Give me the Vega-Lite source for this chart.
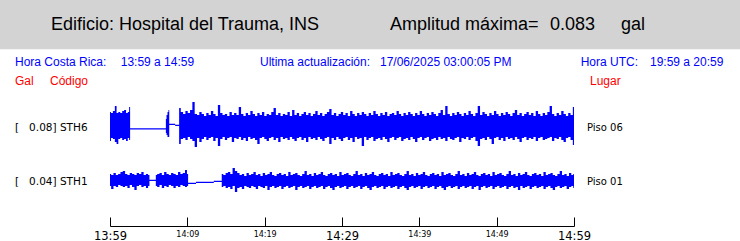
{
  "$schema": "https://vega.github.io/schema/vega-lite/v6.json",
  "width": 464,
  "height": 226,
  "autosize": {"type": "none"},
  "padding": {"left": 110, "right": 166, "top": 0, "bottom": 15},
  "background": "white",
  "config": {"view": {"stroke": null}, "axis": {"grid": false}, "axisY": {"disable": true, "domain": false, "ticks": false, "labels": false, "titleOpacity": 0}},
  "datasets": {
    "sth6": [
      {"t":0.0,"h":112,"l":141},{"t":0.25,"h":113,"l":138},{"t":0.5,"h":111,"l":139},{"t":0.75,"h":106,"l":142},{"t":0.95,"h":113,"l":144},{"t":1.2,"h":112,"l":139},{"t":1.45,"h":113,"l":138},{"t":1.7,"h":111,"l":140},{"t":1.95,"h":110,"l":139},{"t":2.2,"h":113,"l":141},{"t":2.4,"h":112,"l":138},{"t":2.55,"h":107,"l":140},
      {"t":2.65,"h":128.2,"l":129.5},{"t":7.2,"h":128.2,"l":129.5},
      {"t":7.25,"h":119,"l":133},{"t":7.37,"h":115,"l":135},{"t":7.5,"h":112,"l":137},{"t":7.62,"h":110,"l":137},
      {"t":7.7,"h":123.8,"l":125},{"t":8.4,"h":123.8,"l":125},{"t":8.45,"h":124.8,"l":126},{"t":8.88,"h":124.8,"l":126},
      {"t":9.0,"h":108,"l":144},{"t":9.3,"h":112,"l":139},{"t":9.6,"h":114,"l":138},{"t":9.9,"h":111,"l":140},{"t":10.2,"h":113,"l":137},{"t":10.5,"h":110,"l":139},{"t":10.8,"h":102,"l":141},{"t":11.1,"h":114,"l":147},{"t":11.4,"h":115,"l":138},{"t":11.7,"h":112,"l":142},
      {"t":12.0,"h":114,"l":139},{"t":12.3,"h":116,"l":137},{"t":12.6,"h":113,"l":140},{"t":12.9,"h":115,"l":138},{"t":13.2,"h":111,"l":137},{"t":13.5,"h":114,"l":141},{"t":13.8,"h":116,"l":138},{"t":14.1,"h":105,"l":146},{"t":14.4,"h":113,"l":139},{"t":14.7,"h":115,"l":137},
      {"t":15.0,"h":114,"l":140},{"t":15.3,"h":116,"l":138},{"t":15.6,"h":112,"l":137},{"t":15.9,"h":115,"l":142},{"t":16.2,"h":113,"l":138},{"t":16.5,"h":115,"l":139},{"t":16.8,"h":107,"l":137},{"t":17.1,"h":114,"l":140},{"t":17.4,"h":116,"l":138},{"t":17.7,"h":113,"l":141},
      {"t":18.0,"h":115,"l":137},{"t":18.3,"h":111,"l":139},{"t":18.6,"h":114,"l":138},{"t":18.9,"h":116,"l":140},{"t":19.2,"h":113,"l":144},{"t":19.5,"h":115,"l":138},{"t":19.8,"h":112,"l":137},{"t":20.1,"h":116,"l":139},{"t":20.4,"h":114,"l":141},{"t":20.7,"h":115,"l":138},
      {"t":21.0,"h":112,"l":137},{"t":21.3,"h":108,"l":140},{"t":21.6,"h":115,"l":138},{"t":21.9,"h":113,"l":142},{"t":22.2,"h":116,"l":137},{"t":22.5,"h":114,"l":139},{"t":22.8,"h":115,"l":138},{"t":23.1,"h":112,"l":140},{"t":23.4,"h":116,"l":137},{"t":23.7,"h":110,"l":139},
      {"t":24.0,"h":115,"l":141},{"t":24.3,"h":113,"l":138},{"t":24.6,"h":116,"l":137},{"t":24.9,"h":114,"l":140},{"t":25.2,"h":112,"l":138},{"t":25.5,"h":115,"l":142},{"t":25.8,"h":113,"l":137},{"t":26.1,"h":116,"l":139},{"t":26.4,"h":114,"l":138},{"t":26.7,"h":111,"l":140},
      {"t":27.0,"h":115,"l":137},{"t":27.3,"h":113,"l":139},{"t":27.6,"h":116,"l":141},{"t":27.9,"h":114,"l":138},{"t":28.2,"h":112,"l":137},{"t":28.5,"h":109,"l":144},{"t":28.8,"h":115,"l":138},{"t":29.1,"h":113,"l":140},{"t":29.4,"h":116,"l":137},{"t":29.7,"h":114,"l":139},
      {"t":30.0,"h":112,"l":141},{"t":30.3,"h":115,"l":138},{"t":30.6,"h":113,"l":137},{"t":30.9,"h":116,"l":140},{"t":31.2,"h":111,"l":138},{"t":31.5,"h":114,"l":142},{"t":31.8,"h":116,"l":137},{"t":32.1,"h":113,"l":139},{"t":32.4,"h":115,"l":138},{"t":32.7,"h":112,"l":146},
      {"t":33.0,"h":114,"l":137},{"t":33.3,"h":116,"l":140},{"t":33.6,"h":113,"l":138},{"t":33.9,"h":115,"l":137},{"t":34.2,"h":111,"l":141},{"t":34.5,"h":114,"l":139},{"t":34.8,"h":116,"l":138},{"t":35.1,"h":113,"l":140},{"t":35.4,"h":115,"l":137},{"t":35.7,"h":112,"l":139},
      {"t":36.0,"h":116,"l":142},{"t":36.3,"h":114,"l":138},{"t":36.6,"h":113,"l":137},{"t":36.9,"h":115,"l":140},{"t":37.2,"h":111,"l":138},{"t":37.5,"h":114,"l":137},{"t":37.8,"h":116,"l":141},{"t":38.1,"h":113,"l":139},{"t":38.4,"h":115,"l":138},{"t":38.7,"h":112,"l":140},
      {"t":39.0,"h":114,"l":137},{"t":39.3,"h":116,"l":139},{"t":39.6,"h":113,"l":142},{"t":39.9,"h":115,"l":138},{"t":40.2,"h":111,"l":137},{"t":40.5,"h":114,"l":140},{"t":40.8,"h":116,"l":138},{"t":41.1,"h":113,"l":137},{"t":41.4,"h":115,"l":141},{"t":41.7,"h":112,"l":139},
      {"t":42.0,"h":114,"l":138},{"t":42.3,"h":116,"l":140},{"t":42.6,"h":113,"l":137},{"t":42.9,"h":110,"l":139},{"t":43.2,"h":115,"l":138},{"t":43.5,"h":106,"l":141},{"t":43.8,"h":114,"l":137},{"t":44.1,"h":116,"l":139},{"t":44.4,"h":113,"l":140},{"t":44.7,"h":115,"l":138},
      {"t":45.0,"h":112,"l":137},{"t":45.3,"h":114,"l":142},{"t":45.6,"h":116,"l":138},{"t":45.9,"h":113,"l":139},{"t":46.2,"h":115,"l":137},{"t":46.5,"h":111,"l":140},{"t":46.8,"h":114,"l":138},{"t":47.1,"h":116,"l":137},{"t":47.4,"h":113,"l":141},{"t":47.7,"h":106,"l":146},
      {"t":48.0,"h":115,"l":139},{"t":48.3,"h":112,"l":138},{"t":48.6,"h":114,"l":140},{"t":48.9,"h":116,"l":137},{"t":49.2,"h":113,"l":139},{"t":49.5,"h":115,"l":144},{"t":49.8,"h":111,"l":138},{"t":50.1,"h":114,"l":137},{"t":50.4,"h":116,"l":140},{"t":50.7,"h":113,"l":138},
      {"t":51.0,"h":115,"l":141},{"t":51.3,"h":112,"l":137},{"t":51.6,"h":114,"l":139},{"t":51.9,"h":116,"l":138},{"t":52.2,"h":113,"l":140},{"t":52.5,"h":110,"l":137},{"t":52.8,"h":115,"l":139},{"t":53.1,"h":113,"l":142},{"t":53.4,"h":116,"l":138},{"t":53.7,"h":114,"l":137},
      {"t":54.0,"h":112,"l":140},{"t":54.3,"h":115,"l":138},{"t":54.6,"h":113,"l":139},{"t":54.9,"h":116,"l":137},{"t":55.2,"h":111,"l":141},{"t":55.5,"h":114,"l":138},{"t":55.8,"h":116,"l":137},{"t":56.1,"h":113,"l":140},{"t":56.4,"h":115,"l":139},{"t":56.7,"h":112,"l":138},
      {"t":57.0,"h":106,"l":137},{"t":57.3,"h":114,"l":141},{"t":57.6,"h":116,"l":138},{"t":57.9,"h":113,"l":139},{"t":58.2,"h":115,"l":137},{"t":58.5,"h":111,"l":140},{"t":58.8,"h":114,"l":142},{"t":59.1,"h":116,"l":138},{"t":59.4,"h":113,"l":137},{"t":59.7,"h":115,"l":140},{"t":60.0,"h":107,"l":145}
    ],
    "sth1": [
      {"t":0.0,"h":174,"l":186},{"t":0.3,"h":175,"l":189},{"t":0.6,"h":173,"l":186},{"t":0.9,"h":175,"l":187},{"t":1.2,"h":174,"l":185},{"t":1.5,"h":172,"l":186},{"t":1.8,"h":171,"l":187},{"t":2.1,"h":174,"l":186},{"t":2.4,"h":175,"l":188},{"t":2.7,"h":173,"l":185},{"t":3.0,"h":174,"l":187},{"t":3.3,"h":175,"l":190},{"t":3.6,"h":173,"l":186},{"t":3.9,"h":174,"l":185},{"t":4.2,"h":172,"l":187},{"t":4.5,"h":175,"l":186},{"t":4.8,"h":174,"l":188},{"t":5.05,"h":175,"l":186},
      {"t":5.15,"h":179.8,"l":181},{"t":5.9,"h":179.8,"l":181},
      {"t":5.95,"h":175,"l":186},{"t":6.25,"h":174,"l":187},{"t":6.55,"h":173,"l":185},{"t":6.85,"h":175,"l":188},{"t":7.15,"h":172,"l":186},{"t":7.45,"h":174,"l":187},{"t":7.75,"h":175,"l":185},{"t":8.05,"h":173,"l":186},{"t":8.35,"h":174,"l":188},{"t":8.65,"h":175,"l":186},{"t":8.95,"h":172,"l":187},{"t":9.25,"h":174,"l":185},{"t":9.55,"h":173,"l":186},{"t":9.85,"h":170,"l":187},{"t":10.05,"h":174,"l":186},
      {"t":10.15,"h":182.8,"l":184},{"t":11.1,"h":182.8,"l":184},{"t":11.15,"h":181.8,"l":183},{"t":13.4,"h":181.8,"l":183},{"t":13.45,"h":180.8,"l":182},{"t":14.4,"h":180.8,"l":182},
      {"t":14.5,"h":174,"l":187},{"t":14.8,"h":175,"l":186},{"t":15.1,"h":173,"l":188},{"t":15.4,"h":172,"l":187},{"t":15.7,"h":174,"l":189},{"t":16.0,"h":168,"l":186},{"t":16.3,"h":171,"l":192},{"t":16.6,"h":173,"l":188},{"t":16.9,"h":175,"l":187},{"t":17.2,"h":174,"l":189},
      {"t":17.5,"h":176,"l":186},{"t":17.8,"h":173,"l":187},{"t":18.1,"h":175,"l":188},{"t":18.4,"h":174,"l":186},{"t":18.7,"h":172,"l":187},{"t":19.0,"h":175,"l":189},{"t":19.3,"h":174,"l":186},{"t":19.6,"h":176,"l":187},{"t":19.9,"h":173,"l":188},{"t":20.2,"h":175,"l":186},
      {"t":20.5,"h":174,"l":190},{"t":20.8,"h":172,"l":187},{"t":21.1,"h":175,"l":186},{"t":21.4,"h":176,"l":188},{"t":21.7,"h":174,"l":187},{"t":22.0,"h":173,"l":186},{"t":22.3,"h":175,"l":189},{"t":22.6,"h":174,"l":187},{"t":22.9,"h":176,"l":186},{"t":23.2,"h":172,"l":188},
      {"t":23.5,"h":175,"l":187},{"t":23.8,"h":174,"l":186},{"t":24.1,"h":173,"l":190},{"t":24.4,"h":175,"l":187},{"t":24.7,"h":176,"l":186},{"t":25.0,"h":174,"l":188},{"t":25.3,"h":171,"l":187},{"t":25.6,"h":175,"l":186},{"t":25.9,"h":174,"l":189},{"t":26.2,"h":176,"l":187},
      {"t":26.5,"h":173,"l":186},{"t":26.8,"h":175,"l":188},{"t":27.1,"h":174,"l":187},{"t":27.4,"h":172,"l":186},{"t":27.7,"h":175,"l":189},{"t":28.0,"h":176,"l":187},{"t":28.3,"h":174,"l":186},{"t":28.6,"h":173,"l":188},{"t":28.9,"h":175,"l":190},{"t":29.2,"h":174,"l":187},
      {"t":29.5,"h":176,"l":186},{"t":29.8,"h":172,"l":188},{"t":30.1,"h":175,"l":187},{"t":30.4,"h":174,"l":186},{"t":30.7,"h":173,"l":189},{"t":31.0,"h":175,"l":187},{"t":31.3,"h":176,"l":186},{"t":31.6,"h":174,"l":188},{"t":31.9,"h":171,"l":187},{"t":32.2,"h":175,"l":186},
      {"t":32.5,"h":174,"l":189},{"t":32.8,"h":176,"l":187},{"t":33.1,"h":173,"l":186},{"t":33.4,"h":175,"l":188},{"t":33.7,"h":174,"l":190},{"t":34.0,"h":172,"l":187},{"t":34.3,"h":175,"l":186},{"t":34.6,"h":176,"l":188},{"t":34.9,"h":174,"l":187},{"t":35.2,"h":173,"l":186},
      {"t":35.5,"h":175,"l":189},{"t":35.8,"h":174,"l":187},{"t":36.1,"h":176,"l":186},{"t":36.4,"h":172,"l":188},{"t":36.7,"h":175,"l":187},{"t":37.0,"h":174,"l":186},{"t":37.3,"h":173,"l":189},{"t":37.6,"h":175,"l":187},{"t":37.9,"h":176,"l":186},{"t":38.2,"h":174,"l":188},
      {"t":38.5,"h":171,"l":190},{"t":38.8,"h":175,"l":187},{"t":39.1,"h":174,"l":186},{"t":39.4,"h":176,"l":188},{"t":39.7,"h":173,"l":187},{"t":40.0,"h":175,"l":186},{"t":40.3,"h":174,"l":189},{"t":40.6,"h":172,"l":187},{"t":40.9,"h":175,"l":186},{"t":41.2,"h":176,"l":188},
      {"t":41.5,"h":174,"l":187},{"t":41.8,"h":173,"l":186},{"t":42.1,"h":175,"l":189},{"t":42.4,"h":174,"l":187},{"t":42.7,"h":176,"l":186},{"t":43.0,"h":172,"l":188},{"t":43.3,"h":175,"l":190},{"t":43.6,"h":174,"l":187},{"t":43.9,"h":173,"l":186},{"t":44.2,"h":175,"l":188},
      {"t":44.5,"h":176,"l":187},{"t":44.8,"h":174,"l":186},{"t":45.1,"h":171,"l":189},{"t":45.4,"h":175,"l":187},{"t":45.7,"h":174,"l":186},{"t":46.0,"h":176,"l":188},{"t":46.3,"h":173,"l":187},{"t":46.6,"h":175,"l":186},{"t":46.9,"h":174,"l":189},{"t":47.2,"h":172,"l":187},
      {"t":47.5,"h":175,"l":186},{"t":47.8,"h":176,"l":190},{"t":48.1,"h":174,"l":187},{"t":48.4,"h":173,"l":186},{"t":48.7,"h":175,"l":188},{"t":49.0,"h":174,"l":187},{"t":49.3,"h":176,"l":186},{"t":49.6,"h":172,"l":189},{"t":49.9,"h":175,"l":187},{"t":50.2,"h":174,"l":186},
      {"t":50.5,"h":173,"l":188},{"t":50.8,"h":175,"l":187},{"t":51.1,"h":176,"l":186},{"t":51.4,"h":174,"l":189},{"t":51.7,"h":171,"l":187},{"t":52.0,"h":175,"l":186},{"t":52.3,"h":174,"l":188},{"t":52.6,"h":176,"l":187},{"t":52.9,"h":173,"l":190},{"t":53.2,"h":175,"l":186},
      {"t":53.5,"h":174,"l":188},{"t":53.8,"h":172,"l":187},{"t":54.1,"h":175,"l":186},{"t":54.4,"h":176,"l":189},{"t":54.7,"h":174,"l":187},{"t":55.0,"h":173,"l":186},{"t":55.3,"h":175,"l":188},{"t":55.6,"h":174,"l":187},{"t":55.9,"h":176,"l":186},{"t":56.2,"h":172,"l":189},
      {"t":56.5,"h":175,"l":187},{"t":56.8,"h":174,"l":186},{"t":57.1,"h":173,"l":188},{"t":57.4,"h":175,"l":190},{"t":57.7,"h":176,"l":187},{"t":58.0,"h":174,"l":186},{"t":58.3,"h":171,"l":188},{"t":58.6,"h":175,"l":187},{"t":58.9,"h":174,"l":186},{"t":59.2,"h":176,"l":189},
      {"t":59.5,"h":173,"l":187},{"t":59.8,"h":175,"l":186},{"t":60.0,"h":174,"l":188}
    ]
  },
  "layer": [
    {
      "data": {"values": [{}]},
      "mark": {"type": "rect", "color": "#d3d3d3"},
      "encoding": {
        "x": {"datum": -14.3, "scale": {"domain": [0, 60], "nice": false, "zero": false}},
        "x2": {"datum": 81.5},
        "y": {"datum": 0, "scale": {"domain": [0, 226], "reverse": true, "nice": false, "zero": false}},
        "y2": {"datum": 49.3}
      }
    },
    {
      "data": {"name": "sth6"},
      "mark": {"type": "area", "interpolate": "step", "color": "#0000ff", "opacity": 1},
      "encoding": {
        "x": {"field": "t", "type": "quantitative",
          "axis": {
            "title": null,
            "values": [0,5,10,15,20,25,30,35,40,45,50,55,60],
            "grid": false,
            "domainColor": "black",
            "domainWidth": 1,
            "tickColor": "black",
            "tickSize": -9,
            "labelPadding": 13,
            "labelFlush": false,
            "labelOverlap": false,
            "labelBound": false,
            "labelColor": "black",
            "labelFont": "DejaVu Sans",
            "labelBaseline": "top",
            "labelFontSize": {"condition": {"test": "datum.value % 30 == 0", "value": 11.5}, "value": 8},
            "labelExpr": "datum.value % 10 ? '' : (datum.value == 0 ? '13:59' : '14:' + format(datum.value - 1, '02d'))"
          }
        },
        "y": {"field": "h", "type": "quantitative", "title": null},
        "y2": {"field": "l"}
      }
    },
    {
      "data": {"name": "sth1"},
      "mark": {"type": "area", "interpolate": "step", "color": "#0000ff", "opacity": 1},
      "encoding": {
        "x": {"field": "t", "type": "quantitative"},
        "y": {"field": "h", "type": "quantitative", "title": null},
        "y2": {"field": "l"}
      }
    },
    {"data": {"values": [{}]}, "mark": {"type": "text", "align": "left", "baseline": "alphabetic", "font": "Liberation Sans", "fontSize": 18, "color": "black", "text": "Edificio: Hospital del Trauma, INS"}, "encoding": {"x": {"datum": -7.63}, "y": {"datum": 29.5}}},
    {"data": {"values": [{}]}, "mark": {"type": "text", "align": "left", "baseline": "alphabetic", "font": "Liberation Sans", "fontSize": 18, "color": "black", "text": "Amplitud máxima="}, "encoding": {"x": {"datum": 36.207}, "y": {"datum": 29.5}}},
    {"data": {"values": [{}]}, "mark": {"type": "text", "align": "left", "baseline": "alphabetic", "font": "Liberation Sans", "fontSize": 18, "color": "black", "text": "0.083"}, "encoding": {"x": {"datum": 56.897}, "y": {"datum": 29.5}}},
    {"data": {"values": [{}]}, "mark": {"type": "text", "align": "left", "baseline": "alphabetic", "font": "Liberation Sans", "fontSize": 18, "color": "black", "text": "gal"}, "encoding": {"x": {"datum": 66.078}, "y": {"datum": 29.5}}},
    {"data": {"values": [{}]}, "mark": {"type": "text", "align": "left", "baseline": "alphabetic", "font": "Liberation Sans", "fontSize": 12, "color": "#0000ff", "text": "Hora Costa Rica:"}, "encoding": {"x": {"datum": -12.284}, "y": {"datum": 65.5}}},
    {"data": {"values": [{}]}, "mark": {"type": "text", "align": "left", "baseline": "alphabetic", "font": "Liberation Sans", "fontSize": 12, "color": "#0000ff", "text": "13:59 a 14:59"}, "encoding": {"x": {"datum": 1.384}, "y": {"datum": 65.5}}},
    {"data": {"values": [{}]}, "mark": {"type": "text", "align": "left", "baseline": "alphabetic", "font": "Liberation Sans", "fontSize": 12, "color": "#0000ff", "text": "Ultima actualización:"}, "encoding": {"x": {"datum": 19.397}, "y": {"datum": 65.5}}},
    {"data": {"values": [{}]}, "mark": {"type": "text", "align": "left", "baseline": "alphabetic", "font": "Liberation Sans", "fontSize": 12, "color": "#0000ff", "text": "17/06/2025 03:00:05 PM"}, "encoding": {"x": {"datum": 34.914}, "y": {"datum": 65.5}}},
    {"data": {"values": [{}]}, "mark": {"type": "text", "align": "left", "baseline": "alphabetic", "font": "Liberation Sans", "fontSize": 12, "color": "#0000ff", "text": "Hora UTC:"}, "encoding": {"x": {"datum": 60.866}, "y": {"datum": 65.5}}},
    {"data": {"values": [{}]}, "mark": {"type": "text", "align": "left", "baseline": "alphabetic", "font": "Liberation Sans", "fontSize": 12, "color": "#0000ff", "text": "19:59 a 20:59"}, "encoding": {"x": {"datum": 69.828}, "y": {"datum": 65.5}}},
    {"data": {"values": [{}]}, "mark": {"type": "text", "align": "left", "baseline": "alphabetic", "font": "Liberation Sans", "fontSize": 12, "color": "#ff0000", "text": "Gal"}, "encoding": {"x": {"datum": -12.284}, "y": {"datum": 85}}},
    {"data": {"values": [{}]}, "mark": {"type": "text", "align": "left", "baseline": "alphabetic", "font": "Liberation Sans", "fontSize": 12, "color": "#ff0000", "text": "Código"}, "encoding": {"x": {"datum": -7.759}, "y": {"datum": 85}}},
    {"data": {"values": [{}]}, "mark": {"type": "text", "align": "left", "baseline": "alphabetic", "font": "Liberation Sans", "fontSize": 12, "color": "#ff0000", "text": "Lugar"}, "encoding": {"x": {"datum": 62.069}, "y": {"datum": 85}}},
    {"data": {"values": [{}]}, "mark": {"type": "text", "align": "left", "baseline": "alphabetic", "font": "DejaVu Sans", "fontSize": 10.5, "color": "black", "text": "[\u00a0\u00a0\u00a00.08] STH6"}, "encoding": {"x": {"datum": -12.284}, "y": {"datum": 130.7}}},
    {"data": {"values": [{}]}, "mark": {"type": "text", "align": "left", "baseline": "alphabetic", "font": "DejaVu Sans", "fontSize": 10.5, "color": "black", "text": "[\u00a0\u00a0\u00a00.04] STH1"}, "encoding": {"x": {"datum": -12.284}, "y": {"datum": 185}}},
    {"data": {"values": [{}]}, "mark": {"type": "text", "align": "left", "baseline": "alphabetic", "font": "DejaVu Sans", "fontSize": 10, "color": "black", "text": "Piso 06"}, "encoding": {"x": {"datum": 61.681}, "y": {"datum": 130.7}}},
    {"data": {"values": [{}]}, "mark": {"type": "text", "align": "left", "baseline": "alphabetic", "font": "DejaVu Sans", "fontSize": 10, "color": "black", "text": "Piso 01"}, "encoding": {"x": {"datum": 61.681}, "y": {"datum": 185}}}
  ]
}
